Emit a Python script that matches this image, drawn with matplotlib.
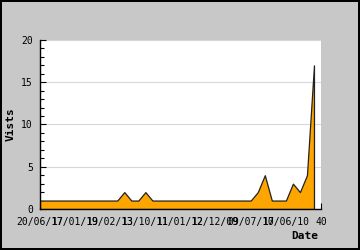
import numpy as np
import matplotlib
matplotlib.use('Agg')
import matplotlib.pyplot as plt
from matplotlib.ticker import MultipleLocator

plt.rcParams.update({'font.family': 'DejaVu Sans Mono', 'font.size': 7})

visits = [1, 1, 1, 1, 1, 1, 1, 1, 1, 1,
          1, 1, 2, 1, 1, 2, 1, 1, 1, 1,
          1, 1, 1, 1, 1, 1, 1, 1, 1, 1,
          1, 2, 4, 1, 1, 1, 3, 2, 4, 17]
tick_pos = [0, 5, 10, 15, 20, 25, 30, 35, 40]
tick_labels = ["20/06/17", "17/01/19", "19/02/13", "13/10/11", "11/01/12",
               "12/12/09", "09/07/17", "10/06/10", "40"]

x = np.arange(len(visits))

fig = plt.figure(figsize=(3.6, 2.5), dpi=100, facecolor='#c8c8c8',
                 edgecolor='black', linewidth=1.5)
ax = fig.add_axes([40/360, 41/250, 281/360, 169/250])
ax.set_facecolor('white')

ax.fill_between(x, visits, 0, facecolor='#ffa500', edgecolor='#222222', linewidth=0.9)

ax.set_xlim(0, 40)
ax.set_ylim(0, 20)
ax.yaxis.set_major_locator(MultipleLocator(5))
ax.yaxis.set_minor_locator(MultipleLocator(1))
ax.set_xticks(tick_pos)
ax.set_xticklabels(tick_labels)
ax.grid(axis='y', which='major', color='#d8d8d8', linewidth=0.8)
ax.set_axisbelow(True)

for s in ['top', 'right']:
    ax.spines[s].set_visible(False)
ax.spines['left'].set_linewidth(1)
ax.spines['bottom'].set_linewidth(1)
ax.tick_params(axis='both', direction='in', length=4, width=0.8, colors='black')
ax.tick_params(axis='y', which='minor', direction='in', length=3, width=0.8)
ax.tick_params(axis='x', pad=6)
ax.tick_params(axis='y', pad=5)

ax.set_ylabel('Vists', fontweight='bold', fontsize=8, labelpad=4)
fig.text(318/360, 1 - 236/250, 'Date', fontweight='bold', fontsize=8,
         ha='right', va='center')

fig.savefig('out.png', dpi=100, facecolor=fig.get_facecolor(), edgecolor='black')
